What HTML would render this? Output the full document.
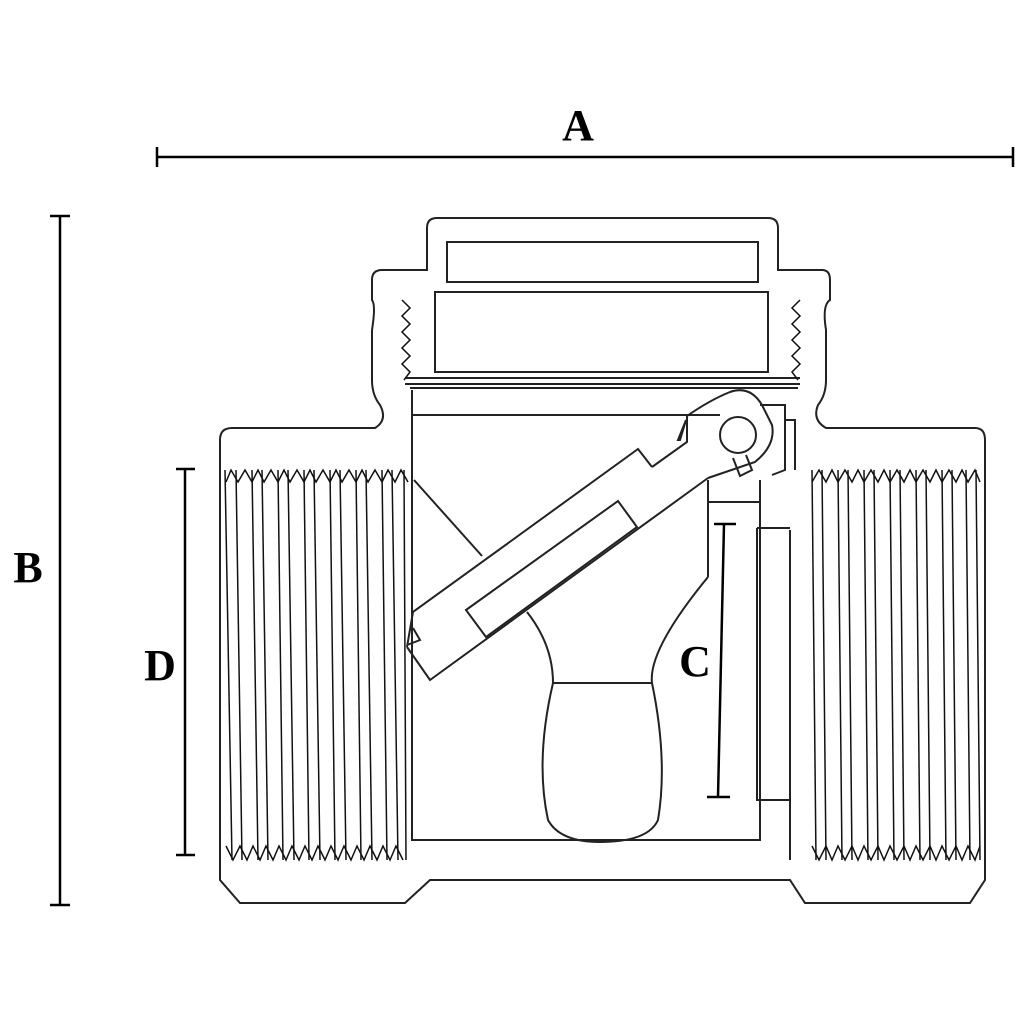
<!DOCTYPE html>
<html><head><meta charset="utf-8"><style>
html,body{margin:0;padding:0;background:#fff;}
svg{display:block;}
text{font-family:"Liberation Serif",serif;font-weight:bold;font-size:44px;fill:#000;}
</style></head><body>
<svg width="1024" height="1024" viewBox="0 0 1024 1024" xmlns="http://www.w3.org/2000/svg">
<g stroke="#000" stroke-width="2.5" fill="none">
<line x1="157" y1="157" x2="1013" y2="157"/>
<line x1="157" y1="147" x2="157" y2="167"/>
<line x1="1013" y1="147" x2="1013" y2="167"/>
<line x1="60" y1="216" x2="60" y2="905"/>
<line x1="50" y1="216" x2="70" y2="216"/>
<line x1="50" y1="905" x2="70" y2="905"/>
<line x1="185" y1="469" x2="185" y2="855"/>
<line x1="176" y1="469" x2="195" y2="469"/>
<line x1="176" y1="855" x2="195" y2="855"/>
<line x1="724" y1="524" x2="718" y2="797"/>
<line x1="714" y1="524" x2="736" y2="524"/>
<line x1="707" y1="797" x2="730" y2="797"/>
</g>
<text x="578" y="140" text-anchor="middle">A</text>
<text x="28" y="582" text-anchor="middle">B</text>
<text x="160" y="680" text-anchor="middle">D</text>
<text x="695" y="676" text-anchor="middle">C</text>

<g stroke="#222" stroke-width="2" fill="none">
<path d="M437,218 H768 Q778,218 778,228 V270 H822 Q830,270 830,280 V300 Q822,305 826,330 V380 Q826,395 818,405 Q812,420 826,428 H975 Q985,428 985,440 V880 L970,903 H805 L790,880 H430 L405,903 H240 L220,880 V440 Q220,428 232,428 H375 Q388,420 380,405 Q372,395 372,380 V330 Q376,305 372,300 V280 Q372,270 382,270 H427 V228 Q427,218 437,218 Z"/>
<rect x="447" y="242" width="311" height="40"/>
<rect x="435" y="292" width="333" height="80"/>
<path d="M405,378 H800 M405,384 H800 M410,388 H798"/>
<path d="M412,390 V840 H760 V480"/>
<path d="M412,415 H720"/>
<path d="M414,480 L482,556"/>
<path d="M790,530 V860 M757,528 H790 M757,528 V800 H790"/>
<path d="M760,405 H785 V470 L772,475 M785,420 H795 V470"/>
<path d="M708,480 V577 M708,502 H760"/>
<path d="M527,612 Q553,645 553,683 Q535,760 548,820 Q560,842 600,842 Q648,842 658,820 Q668,760 652,683 Q648,650 708,577"/>
<path d="M553,683 H652"/>
<path d="M407,647 L413,612 L638,449 L652,467"/>
<path d="M407,647 L430,680 L708,478"/>
<path d="M466,610 L618,501 L637,527 L486,637 Z"/>
<path d="M407,645 L420,640 L413,628"/>
<path d="M652,467 L687,442 L687,416 Q710,400 730,392 Q750,385 762,405 L772,425 Q776,445 755,462 L708,478"/>
<path d="M678,440 L686,420 L680,440 Z"/>
<circle cx="738" cy="435" r="18"/>
<path d="M733,458 L740,476 L752,470 L746,455"/>
</g>
<g stroke="#111" stroke-width="1.5" fill="none">
<path d="M225,470 L232,860 M236,470 L242,860 M252,470 L258,860 M262,470 L268,860 M278,470 L283,860 M288,470 L294,860 M304,470 L309,860 M314,470 L320,860 M330,470 L335,860 M340,470 L346,860 M356,470 L361,860 M366,470 L372,860 M382,470 L387,860 M392,470 L398,860 M404,470 L406,860"/>
<path d="M226,482 L231,470 L238,482 L245,470 L252,482 L258,470 L264,482 L271,470 L278,482 L284,470 L290,482 L297,470 L304,482 L310,470 L316,482 L323,470 L330,482 L336,470 L342,482 L349,470 L356,482 L362,470 L368,482 L375,470 L382,482 L388,470 L395,482 L401,470 L408,482"/>
<path d="M226,846 L233,860 L240,846 L247,860 L253,846 L260,860 L266,846 L273,860 L279,846 L286,860 L292,846 L299,860 L305,846 L312,860 L318,846 L325,860 L331,846 L338,860 L344,846 L351,860 L357,846 L364,860 L370,846 L377,860 L383,846 L390,860 L396,846 L403,860"/>
<path d="M812,470 L816,860 M822,470 L826,860 M838,470 L842,860 M848,470 L852,860 M864,470 L868,860 M874,470 L878,860 M890,470 L894,860 M900,470 L904,860 M916,470 L920,860 M926,470 L930,860 M942,470 L946,860 M952,470 L956,860 M966,470 L970,860 M976,470 L980,860"/>
<path d="M812,482 L819,470 L826,482 L832,470 L838,482 L845,470 L852,482 L858,470 L864,482 L871,470 L878,482 L884,470 L890,482 L897,470 L904,482 L910,470 L916,482 L923,470 L930,482 L936,470 L942,482 L949,470 L956,482 L962,470 L968,482 L975,470 L980,482"/>
<path d="M812,846 L819,860 L826,846 L832,860 L838,846 L845,860 L852,846 L858,860 L864,846 L871,860 L878,846 L884,860 L890,846 L897,860 L904,846 L910,860 L916,846 L923,860 L930,846 L936,860 L942,846 L949,860 L956,846 L962,860 L968,846 L975,860 L980,846"/>
<path d="M402,300 L410,308 L402,316 L410,324 L402,332 L410,340 L402,348 L410,356 L402,364 L410,372 L404,380"/>
<path d="M800,300 L792,308 L800,316 L792,324 L800,332 L792,340 L800,348 L792,356 L800,364 L792,372 L798,380"/>
</g>
</svg>
</body></html>
